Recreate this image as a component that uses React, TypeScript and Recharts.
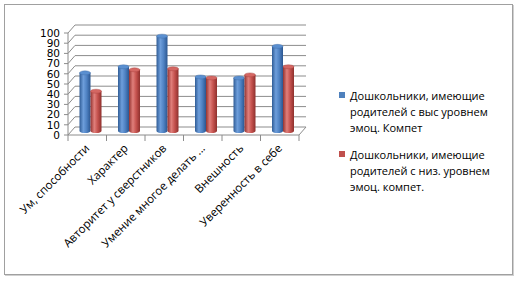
import React from "react";
import { BarChart, Bar, XAxis, YAxis, CartesianGrid, Legend } from "recharts";

const categories = [
  "Ум, способности",
  "Характер",
  "Авторитет у сверстников",
  "Умение многое делать ...",
  "Внешность",
  "Уверенность в себе",
];
const highSeries = [57, 63, 93, 53, 52, 83];
const lowSeries = [39, 60, 61, 52, 55, 63];
const yTicks = [0, 10, 20, 30, 40, 50, 60, 70, 80, 90, 100];
const highName = "Дошкольники, имеющие родителей с выс уровнем эмоц. Компет";
const lowName = "Дошкольники, имеющие родителей с низ. уровнем эмоц. компет.";

const data = categories.map((c, i) => ({ cat: c, high: highSeries[i], low: lowSeries[i] }));

const DX = 7;
const DY = -8;
const BX = 3.5;
const BY = -4;
const GRID = "#8c8c8c";

const makeCylinder = (gid: string, top: string, edge: string) => (props: any) => {
  const { x, y, width, height } = props;
  if (width == null || height == null) return null;
  const x0 = x + BX;
  const y0 = y + BY;
  const rx = width / 2;
  const ry = 2;
  const cx = x0 + rx;
  return (
    <g>
      <path
        d={`M ${x0} ${y0} L ${x0} ${y0 + height} A ${rx} ${ry} 0 0 0 ${x0 + width} ${y0 + height} L ${x0 + width} ${y0} Z`}
        fill={`url(#${gid})`}
      />
      <ellipse cx={cx} cy={y0} rx={rx} ry={ry} fill={top} stroke={edge} strokeWidth={0.4} />
    </g>
  );
};

const BlueCyl = makeCylinder("gBlue", "#5a8fd0", "#3d6aa5");
const RedCyl = makeCylinder("gRed", "#d46763", "#a43c39");

const GridLine = (props: any) => {
  const { x1, x2, y1, index } = props;
  const d = `M ${x1} ${y1} L ${x1 + DX} ${y1 + DY} L ${x2 + DX} ${y1 + DY}`;
  return (
    <g key={`gl-${index}-${y1}`}>
      <path d={d} stroke={GRID} strokeWidth={1} fill="none" />
      {index === 0 ? (
        <path d={`M ${x2} ${y1} L ${x2 + DX} ${y1 + DY}`} stroke={GRID} strokeWidth={1} fill="none" />
      ) : null}
    </g>
  );
};

const CatTick = (props: any) => {
  const { x, y, payload, index, visibleTicksCount } = props;
  const off = payload.offset || 0;
  const ax = x + 3;
  const ay = y + 14;
  return (
    <g>
      <line x1={x - off} y1={y} x2={x - off} y2={y + 6} stroke={GRID} />
      {index === visibleTicksCount - 1 ? (
        <line x1={x + off} y1={y} x2={x + off} y2={y + 6} stroke={GRID} />
      ) : null}
      <text
        x={ax}
        y={ay}
        textAnchor="end"
        transform={`rotate(-45 ${ax} ${ay})`}
        fontFamily="Open Sans"
        fontSize={11.5}
        fill="#000"
      >
        {payload.value}
      </text>
    </g>
  );
};

const LegendContent = (props: any) => {
  const { payload } = props;
  return (
    <div style={{ fontFamily: "Open Sans", fontSize: 11, color: "#000", lineHeight: "16px" }}>
      {(payload || []).map((p: any, i: number) => (
        <div key={i} style={{ display: "flex", alignItems: "flex-start", marginBottom: i === 0 ? 11 : 0 }}>
          <div style={{ width: 6, height: 6, background: p.color, marginTop: 4, marginRight: 5, flex: "none" }} />
          <div style={{ width: 152 }}>{p.value}</div>
        </div>
      ))}
    </div>
  );
};

export default function App() {
  return (
    <div style={{ position: "absolute", left: 0, top: 0, width: 518, height: 281, background: "#fff" }}>
      <div
        style={{
          position: "absolute",
          left: 4,
          top: 4,
          width: 507,
          height: 269,
          border: "1px solid #a0a0a0",
          boxShadow: "1px 1px 0 #d0d0d0",
        }}
      />
      <div style={{ position: "absolute", left: 0, top: 0 }}>
        <BarChart
          width={518}
          height={281}
          data={data}
          margin={{ top: 33, right: 219, bottom: 145, left: 38 }}
          barSize={11}
          barGap={0}
        >
          <defs>
            <linearGradient id="gBlue" x1="0" y1="0" x2="1" y2="0">
              <stop offset="0%" stopColor="#2f5c96" />
              <stop offset="35%" stopColor="#6e9edb" />
              <stop offset="65%" stopColor="#4f82c3" />
              <stop offset="100%" stopColor="#2b5690" />
            </linearGradient>
            <linearGradient id="gRed" x1="0" y1="0" x2="1" y2="0">
              <stop offset="0%" stopColor="#943330" />
              <stop offset="35%" stopColor="#e07f7b" />
              <stop offset="65%" stopColor="#c5524e" />
              <stop offset="100%" stopColor="#8e302d" />
            </linearGradient>
          </defs>
          <CartesianGrid vertical={false} horizontal={GridLine as any} />
          <XAxis
            dataKey="cat"
            interval={0}
            height={1}
            tickLine={false}
            tickSize={0}
            tickMargin={0}
            axisLine={{ stroke: GRID }}
            tick={CatTick as any}
          />
          <YAxis
            width={30}
            domain={[0, 100]}
            ticks={yTicks}
            interval={0}
            tickSize={4}
            tickMargin={4}
            axisLine={{ stroke: GRID }}
            tickLine={{ stroke: GRID }}
            tick={{ fontFamily: "DejaVu Sans", fontSize: 10.5, fill: "#000" }}
          />
          <Legend
            layout="vertical"
            align="center"
            verticalAlign="middle"
            wrapperStyle={{ left: 339, top: 88, width: 175 }}
            content={LegendContent as any}
          />
          <Bar dataKey="high" name={highName} fill="#4F81BD" shape={BlueCyl as any} isAnimationActive={false} />
          <Bar dataKey="low" name={lowName} fill="#C0504D" shape={RedCyl as any} isAnimationActive={false} />
        </BarChart>
      </div>
    </div>
  );
}
